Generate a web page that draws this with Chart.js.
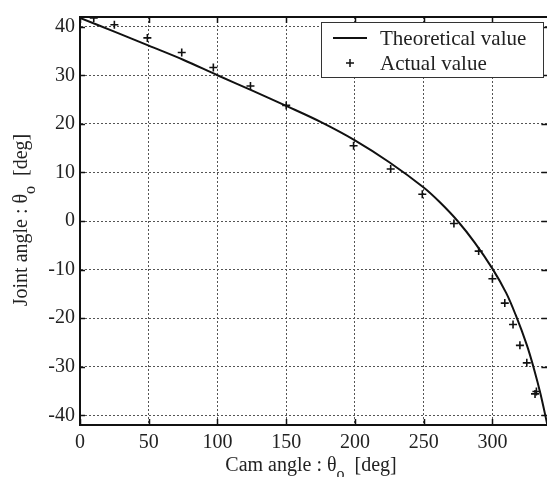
<!DOCTYPE html>
<html>
<head>
<meta charset="utf-8">
<script src="https://cdn.jsdelivr.net/npm/chart.js@4.4.1/dist/chart.umd.min.js"></script>
<style>
  html, body { margin: 0; padding: 0; background: #fff; overflow: hidden; }
  #wrap { width: 553px; height: 477px; }
</style>
</head>
<body>
<div id="wrap"><canvas id="chart"></canvas></div>
<script>
// theoretical curve (cam angle -> joint angle)
const theoryX = [0, 25, 50, 75, 100, 125, 150, 175, 200, 225, 250, 262, 275, 287, 300, 310, 317, 325, 330, 335, 340];
const theoryY = [41.8, 39.0, 36.1, 33.2, 30.0, 26.9, 23.7, 20.4, 16.6, 12.1, 6.9, 3.8, -0.1, -4.4, -9.8, -14.8, -19.4, -25.5, -30.2, -35.6, -42.0];

// measured points
const actualX = [10, 25, 49, 74, 97, 124, 150, 199, 226, 249, 272, 290, 300, 309, 315, 320, 325, 331, 332];
const actualY = [41.8, 40.4, 37.7, 34.7, 31.6, 27.8, 23.8, 15.5, 10.7, 5.5, -0.5, -6.2, -11.9, -16.9, -21.3, -25.6, -29.2, -35.6, -35.1];

const xTicks = [0, 50, 100, 150, 200, 250, 300];
const yTicks = [-40, -30, -20, -10, 0, 10, 20, 30, 40];

const seriesNames = ['Theoretical value', 'Actual value'];

const FONT = '"Liberation Serif", "Times New Roman", serif';

function drawSubLabel(ctx, main, sub, tail, cx, cy, size) {
  // text with a subscript, centred on cx
  ctx.font = size + 'px ' + FONT;
  const w1 = ctx.measureText(main).width;
  const w3 = ctx.measureText(tail).width;
  ctx.font = (size - 4) + 'px ' + FONT;
  const w2 = ctx.measureText(sub).width;
  let x = cx - (w1 + w2 + w3) / 2;
  ctx.textBaseline = 'alphabetic';
  ctx.textAlign = 'left';
  ctx.font = size + 'px ' + FONT;
  ctx.fillText(main, x, cy);
  x += w1;
  ctx.font = (size - 4) + 'px ' + FONT;
  ctx.fillText(sub, x, cy + 8);
  x += w2;
  ctx.font = size + 'px ' + FONT;
  ctx.fillText(tail, x, cy);
}

const decorations = {
  id: 'decorations',
  afterDatasetsDraw(chart) {
    const { ctx, chartArea: a, scales: { x, y } } = chart;
    ctx.save();
    ctx.strokeStyle = '#111';
    // top frame line
    ctx.lineWidth = 2;
    ctx.beginPath();
    ctx.moveTo(a.left, a.top);
    ctx.lineTo(a.right, a.top);
    ctx.stroke();
    // inward ticks
    ctx.lineWidth = 1.5;
    ctx.beginPath();
    xTicks.forEach(v => {
      const px = Math.round(x.getPixelForValue(v)) + 0.5;
      ctx.moveTo(px, a.bottom); ctx.lineTo(px, a.bottom - 6);
      ctx.moveTo(px, a.top); ctx.lineTo(px, a.top + 6);
    });
    yTicks.forEach(v => {
      const py = Math.round(y.getPixelForValue(v)) + 0.5;
      ctx.moveTo(a.left, py); ctx.lineTo(a.left + 5, py);
      ctx.moveTo(a.right, py); ctx.lineTo(a.right - 6, py);
    });
    ctx.stroke();

    // legend box (top right, inside the axes)
    const lx = 321, ly = a.top + 5, lw = 222, lh = 55;
    ctx.fillStyle = '#fff';
    ctx.fillRect(lx, ly, lw, lh);
    ctx.lineWidth = 1;
    ctx.strokeStyle = '#333';
    ctx.strokeRect(lx + 0.5, ly + 0.5, lw, lh);
    ctx.strokeStyle = '#111';
    ctx.lineWidth = 2;
    ctx.beginPath();
    ctx.moveTo(lx + 12, ly + 16);
    ctx.lineTo(lx + 46, ly + 16);
    ctx.stroke();
    ctx.lineWidth = 1.5;
    ctx.beginPath();
    ctx.moveTo(lx + 25, ly + 41); ctx.lineTo(lx + 33, ly + 41);
    ctx.moveTo(lx + 29, ly + 37); ctx.lineTo(lx + 29, ly + 45);
    ctx.stroke();
    ctx.fillStyle = '#222';
    ctx.font = '21px ' + FONT;
    ctx.textAlign = 'left';
    ctx.textBaseline = 'middle';
    ctx.fillText(seriesNames[0], lx + 59, ly + 17);
    ctx.fillText(seriesNames[1], lx + 59, ly + 42);
    ctx.restore();
  },
  afterDraw(chart) {
    const { ctx } = chart;
    ctx.save();
    ctx.fillStyle = '#222';
    drawSubLabel(ctx, 'Cam angle : \u03b8', 'o', '  [deg]', 311, 471, 20);
    ctx.translate(27, 220);
    ctx.rotate(-Math.PI / 2);
    drawSubLabel(ctx, 'Joint angle : \u03b8', 'o', '  [deg]', 0, 0, 20);
    ctx.restore();
  }
};

new Chart(document.getElementById('chart'), {
  type: 'scatter',
  data: {
    datasets: [
      {
        label: seriesNames[0],
        data: theoryX.map((v, i) => ({ x: v, y: theoryY[i] })),
        showLine: true,
        borderColor: '#111',
        borderWidth: 2,
        pointRadius: 0,
        tension: 0.35,
        fill: false
      },
      {
        label: seriesNames[1],
        data: actualX.map((v, i) => ({ x: v, y: actualY[i] })),
        showLine: false,
        pointStyle: 'cross',
        pointRadius: 4,
        borderColor: '#111',
        borderWidth: 1.6
      }
    ]
  },
  options: {
    responsive: true,
    maintainAspectRatio: false,
    animation: false,
    devicePixelRatio: 1,
    layout: { padding: { top: 12, left: 0, right: 0, bottom: 0 } },
    plugins: {
      legend: { display: false },
      tooltip: { enabled: false }
    },
    scales: {
      x: {
        type: 'linear',
        min: 0,
        max: 340,
        afterBuildTicks: s => { s.ticks = xTicks.map(v => ({ value: v })); },
        afterFit: s => { s.height = 52; },
        ticks: { font: { family: FONT, size: 20 }, color: '#222', padding: 6, maxRotation: 0, autoSkip: false },
        grid: { color: '#555', lineWidth: 1, drawTicks: false },
        border: { display: true, color: '#111', width: 2, dash: [2, 2] }
      },
      y: {
        type: 'linear',
        min: -42,
        max: 42,
        afterBuildTicks: s => { s.ticks = yTicks.map(v => ({ value: v })); },
        afterFit: s => { s.width = 80; },
        ticks: { font: { family: FONT, size: 20 }, color: '#222', padding: 5, autoSkip: false },
        grid: { color: '#555', lineWidth: 1, drawTicks: false },
        border: { display: true, color: '#111', width: 2, dash: [2, 2] }
      }
    }
  },
  plugins: [decorations]
});
</script>
</body>
</html>
